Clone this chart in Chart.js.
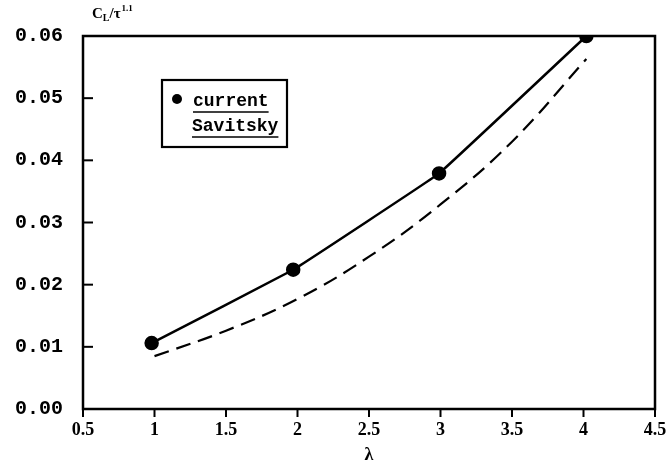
<!DOCTYPE html>
<html>
<head>
<meta charset="utf-8">
<script src="https://cdn.jsdelivr.net/npm/chart.js@4/dist/chart.umd.min.js"></script>
<style>
  html,body{margin:0;padding:0;background:#fff;}
  #wrap{width:667px;height:466px;}
</style>
</head>
<body>
<div id="wrap"><canvas id="c" width="667" height="466"></canvas></div>
<script>
// Data
const currentLambda = [0.98, 1.97, 2.99, 4.02];
const currentValues = [0.0106, 0.0224, 0.0379, 0.0600];
const savitskyLambda = [1.0, 1.5, 2.0, 2.5, 3.0, 3.5, 4.02];
const savitskyValues = [0.0085, 0.0126, 0.0177, 0.0245, 0.0329, 0.0430, 0.0563];
const xTickValues = [0.5, 1, 1.5, 2, 2.5, 3, 3.5, 4, 4.5];
const xTickLabels = ['0.5', '1', '1.5', '2', '2.5', '3', '3.5', '4', '4.5'];
const yTickLabels = ['0.00', '0.01', '0.02', '0.03', '0.04', '0.05', '0.06'];
const legendLabels = ['current', 'Savitsky'];
const xAxisTitle = 'λ';

const toPts = (xs, ys) => xs.map((x, i) => ({x: x, y: ys[i]}));

const framePlugin = {
  id: 'frame',
  afterDatasetsDraw(chart) {
    const ctx = chart.ctx, a = chart.chartArea;
    const xs = chart.scales.x, ys = chart.scales.y;
    ctx.save();
    ctx.strokeStyle = '#000';
    ctx.lineWidth = 2.5;
    ctx.strokeRect(a.left, a.top, a.right - a.left, a.bottom - a.top);
    // y ticks (inward)
    ctx.lineWidth = 2;
    ys.ticks.forEach(t => {
      const y = ys.getPixelForValue(t.value);
      ctx.beginPath(); ctx.moveTo(a.left, y); ctx.lineTo(a.left + 10, y); ctx.stroke();
    });
    // x ticks (outward)
    xs.ticks.forEach(t => {
      const x = xs.getPixelForValue(t.value);
      ctx.beginPath(); ctx.moveTo(x, a.bottom); ctx.lineTo(x, a.bottom + 8); ctx.stroke();
    });
    // y axis title C_L / tau^1.1
    ctx.fillStyle = '#000';
    ctx.textBaseline = 'alphabetic';
    let x = 92; const yb = 18;
    ctx.font = 'bold 15px "Liberation Serif"';
    ctx.fillText('C', x, yb); x += ctx.measureText('C').width;
    ctx.font = 'bold 10px "Liberation Serif"';
    ctx.fillText('L', x, yb + 3); x += ctx.measureText('L').width;
    ctx.font = 'bold 15px "Liberation Serif"';
    ctx.fillText('/τ', x, yb); x += ctx.measureText('/τ').width + 1;
    ctx.font = 'bold 9px "Liberation Serif"';
    ctx.fillText('1.1', x, yb - 7);
    // legend box
    const bx = 162, by = 80, bw = 125, bh = 67;
    ctx.lineWidth = 2.2;
    ctx.strokeRect(bx, by, bw, bh);
    ctx.beginPath(); ctx.arc(177, 99, 5, 0, Math.PI * 2); ctx.fill();
    ctx.font = 'bold 18px "Liberation Mono"';
    ctx.fillText(legendLabels[0], 193, 106);
    ctx.fillText(legendLabels[1], 192, 131);
    ctx.lineWidth = 1.5;
    const w0 = ctx.measureText(legendLabels[0]).width;
    const w1 = ctx.measureText(legendLabels[1]).width;
    ctx.beginPath(); ctx.moveTo(193, 112); ctx.lineTo(193 + w0, 112); ctx.stroke();
    ctx.beginPath(); ctx.moveTo(192, 137); ctx.lineTo(192 + w1, 137); ctx.stroke();
    ctx.restore();
  }
};

new Chart(document.getElementById('c'), {
  type: 'line',
  data: {
    datasets: [
      {
        label: legendLabels[0],
        data: toPts(currentLambda, currentValues),
        borderColor: '#000',
        backgroundColor: '#000',
        borderWidth: 2.5,
        pointRadius: 6,
        pointBackgroundColor: '#000',
        tension: 0.05,
        fill: false
      },
      {
        label: legendLabels[1],
        data: toPts(savitskyLambda, savitskyValues),
        borderColor: '#000',
        borderWidth: 2.2,
        borderDash: [15, 8],
        pointRadius: 0,
        tension: 0.4,
        fill: false
      }
    ]
  },
  options: {
    responsive: false,
    animation: false,
    devicePixelRatio: 1,
    layout: {padding: {top: 36, right: 12, left: 0, bottom: 0}},
    plugins: {legend: {display: false}, tooltip: {enabled: false}},
    scales: {
      x: {
        type: 'linear',
        min: 0.5, max: 4.5,
        afterBuildTicks: s => { s.ticks = xTickValues.map(v => ({value: v})); },
        afterFit: s => { s.height = 57; s.paddingLeft = 0; s.paddingRight = 0; },
        grid: {display: false, drawTicks: false},
        border: {display: false},
        ticks: {
          color: '#000',
          padding: 11,
          maxRotation: 0,
          font: {family: '"Liberation Serif"', size: 18, weight: 'bold'},
          callback: (v, i) => xTickLabels[i]
        },
        title: {display: true, text: xAxisTitle, color: '#000', padding: {top: 0, bottom: 0},
          font: {family: '"Liberation Serif"', size: 18, weight: 'bold'}}
      },
      y: {
        type: 'linear',
        min: 0, max: 0.06,
        afterBuildTicks: s => { s.ticks = yTickLabels.map(v => ({value: parseFloat(v)})); },
        afterFit: s => { s.width = 83; s.paddingTop = 0; s.paddingBottom = 0; },
        grid: {display: false, drawTicks: false},
        border: {display: false},
        ticks: {
          color: '#000',
          padding: 20,
          font: {family: '"Liberation Mono"', size: 20, weight: 'bold'},
          callback: (v, i) => yTickLabels[i]
        }
      }
    }
  },
  plugins: [framePlugin]
});
</script>
</body>
</html>
